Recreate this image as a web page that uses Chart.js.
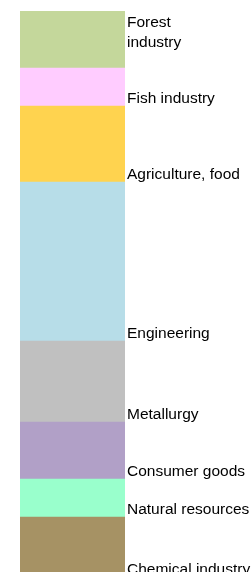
<!DOCTYPE html>
<html>
<head>
<meta charset="utf-8">
<script src="https://cdn.jsdelivr.net/npm/chart.js@4"></script>
<style>
  html, body { margin: 0; padding: 0; background: #fff; }
  #wrap { width: 251px; height: 572px; position: relative; }
</style>
</head>
<body>
<div id="wrap"><canvas id="myChart"></canvas></div>
<script>
'use strict';

// bottom to top, share of total (%)
let sectors = [
  'Chemical industry',
  'Natural resources',
  'Consumer goods',
  'Metallurgy',
  'Engineering',
  'Agriculture, food',
  'Fish industry',
  ['Forest', 'industry']
];
let shares = [10.6, 6.7, 10.1, 14.3, 28.1, 13.4, 6.7, 10.1];
let colors = ['#a69264', '#99ffcc', '#b1a0c7', '#c0c0c0', '#b7dde8', '#ffd34f', '#ffccff', '#c4d79b'];
let categories = [''];

let labelFont = '15.5px "Liberation Sans", Arial, sans-serif';

// draws the sector names to the right of each block
let sideLabels = {
  id: 'sideLabels',
  afterDatasetsDraw(chart) {
    let ctx = chart.ctx;
    ctx.save();
    ctx.font = labelFont;
    ctx.fillStyle = '#000';
    ctx.textAlign = 'left';
    ctx.textBaseline = 'alphabetic';
    chart.data.datasets.forEach(function (ds, i) {
      let bar = chart.getDatasetMeta(i).data[0];
      let x = bar.x + bar.width / 2 + 2;
      let top = Math.min(bar.y, bar.base);
      let bottom = Math.max(bar.y, bar.base);
      if (Array.isArray(ds.label)) {
        for (let j = 0; j < ds.label.length; j++) {
          ctx.fillText(ds.label[j], x, top + 16 + j * 20);
        }
      } else {
        ctx.fillText(ds.label, x, bottom - 3);
      }
    });
    ctx.restore();
  }
};

let datasets = [];
for (let i = 0; i < sectors.length; i++) {
  datasets.push({
    label: sectors[i],
    data: [shares[i]],
    backgroundColor: colors[i],
    borderWidth: 0
  });
}

let ctx = document.getElementById('myChart').getContext('2d');
let myChart = new Chart(ctx, {
  type: 'bar',
  data: {
    labels: categories,
    datasets: datasets
  },
  options: {
    responsive: true,
    maintainAspectRatio: false,
    animation: false,
    layout: { padding: { left: 20, right: 126, top: 11, bottom: 0 } },
    datasets: { bar: { barPercentage: 1, categoryPercentage: 1 } },
    plugins: {
      legend: { display: false },
      tooltip: { enabled: false }
    },
    scales: {
      x: { stacked: true, display: false },
      y: { stacked: true, display: false, min: 0.9, max: 100 }
    }
  },
  plugins: [sideLabels]
});
</script>
</body>
</html>
